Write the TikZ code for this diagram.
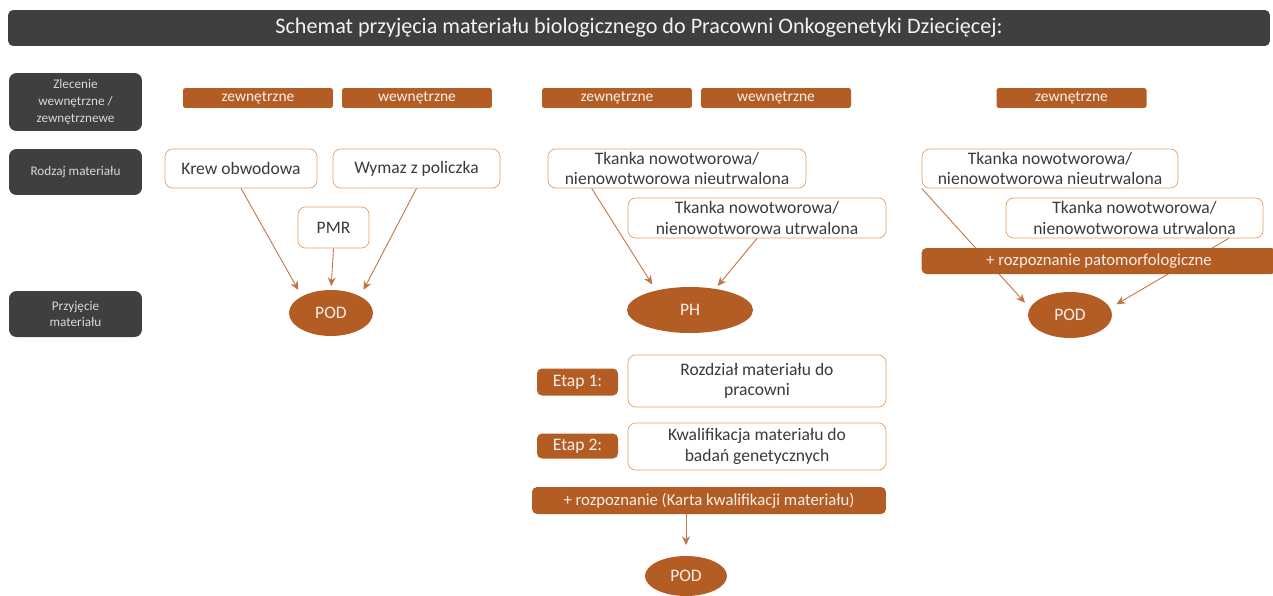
\documentclass[tikz,border=0pt]{standalone}
\usepackage{fontspec}
\setmainfont{Carlito}
\usetikzlibrary{shapes.geometric,arrows,arrows.meta,positioning,backgrounds}

\definecolor{rust}{HTML}{B35C24}
\definecolor{rustline}{HTML}{E6A064}
\definecolor{slate}{HTML}{3F3F3F}
\definecolor{boxtext}{HTML}{3A3A3A}

\begin{document}
\begin{tikzpicture}[
    x=0.02cm, y=-0.02cm,
    % Define styles for the header, row labels, tags and boxes
    header/.style={draw=none, fill=slate, rounded corners=1mm, text=white!95!black, font=\fontsize{12.6}{14}\selectfont, minimum width=25.24cm, minimum height=0.72cm},
    rowlabel/.style={fill=slate, rounded corners=1.5mm, text=white!85!black, font=\fontsize{7.5}{9.5}\selectfont, align=center, minimum width=2.66cm, inner sep=1pt},
    tag/.style={fill=rust, rounded corners=0.5mm, text=white!92!rust, font=\fontsize{8.8}{10}\selectfont, minimum width=3cm, minimum height=0.4cm, inner sep=0pt},
    material/.style={draw=rustline, fill=white, rounded corners=1.5mm, text=boxtext, font=\fontsize{10}{11.5}\selectfont, align=center, minimum height=0.78cm, inner sep=1pt},
    stage/.style={fill=rust, rounded corners=1mm, text=white!90!rust, font=\fontsize{10}{12}\selectfont, minimum width=1.62cm, minimum height=0.54cm, inner sep=0pt},
    diagnosis/.style={fill=rust, rounded corners=1mm, text=white!90!rust, font=\fontsize{9.5}{11}\selectfont, minimum height=0.54cm, inner sep=0pt},
    lab/.style={ellipse, fill=rust, text=white!90!rust, font=\fontsize{10}{12}\selectfont, inner sep=0pt, minimum width=1.68cm, minimum height=0.92cm},
    arrow/.style={-{Stealth[length=5pt,width=4.5pt]}, draw=rust!85!white, line width=0.5pt, shorten >=4pt}
]

\useasboundingbox (0,0) rectangle (1273,595);

% Title bar
\node[header] (title) at (639,28) {Schemat przyjęcia materiału biologicznego do Pracowni Onkogenetyki Dziecięcej:};

% Row labels on the left
\node[rowlabel, minimum height=1.16cm] (order) at (75.5,102) {Zlecenie\\wewnętrzne /\\zewnętrznewe};
\node[rowlabel, minimum height=0.92cm] (kind) at (75.5,172) {Rodzaj materiału};
\node[rowlabel, minimum height=0.92cm] (intake) at (75.5,314) {Przyjęcie\\materiału};

% Order tags
\node[tag] (ext1) at (258,98) {zewnętrzne};
\node[tag] (int1) at (417,98) {wewnętrzne};
\node[tag] (ext2) at (617,98) {zewnętrzne};
\node[tag] (int2) at (776,98) {wewnętrzne};
\node[tag] (ext3) at (1071.5,98) {zewnętrzne};

% First column - blood and swab
\node[material, minimum width=3.04cm] (blood) at (241,168.5) {Krew obwodowa};
\node[material, minimum width=3.34cm] (swab) at (416.5,168.5) {Wymaz z policzka};
\node[material, minimum width=1.42cm, minimum height=0.82cm] (pmr) at (333.5,227.5) {PMR};
\node[lab] (pod1) at (331,313) {POD};

\draw[arrow] (blood.south) -- (pod1.150);
\draw[arrow, shorten >=2pt] (pmr.south) -- (pod1.north);
\draw[arrow] (swab.south) -- (pod1.30);

% Second column - tissue to PH
\node[material, minimum width=5.16cm] (fresh2) at (677,168.5) {Tkanka nowotworowa/\\nienowotworowa nieutrwalona};
\node[material, minimum width=5.16cm, minimum height=0.8cm] (fixed2) at (757,218) {Tkanka nowotworowa/\\nienowotworowa utrwalona};
\node[lab, minimum width=2.52cm] (ph) at (690,310) {PH};

\draw[arrow] ([xshift=0.88cm]fresh2.south west) -- (ph.150);
\draw[arrow, shorten >=2pt] (fixed2.south) -- (ph.40);

% Stages after PH
\node[stage] (stage1) at (577.5,382) {Etap 1:};
\node[material, minimum width=5.16cm, minimum height=1.04cm] (split) at (757,381) {Rozdział materiału do\\pracowni};
\node[stage, minimum height=0.5cm] (stage2) at (577.5,446) {Etap 2:};
\node[material, minimum width=5.16cm, minimum height=0.94cm] (qualify) at (757,446.5) {Kwalifikacja materiału do\\badań genetycznych};
\node[diagnosis, minimum width=7.08cm] (card) at (709,500.5) {+ rozpoznanie (Karta kwalifikacji materiału)};
\node[lab, minimum width=1.64cm, minimum height=0.8cm] (pod2) at (686,576) {POD};

\draw[arrow, shorten >=6pt] (card.south -| pod2.north) -- (pod2.north);

% Third column - tissue with diagnosis to POD
\node[material, minimum width=5.12cm] (fresh3) at (1050,168.5) {Tkanka nowotworowa/\\nienowotworowa nieutrwalona};
\node[material, minimum width=5.14cm, minimum height=0.8cm] (fixed3) at (1134.5,218) {Tkanka nowotworowa/\\nienowotworowa utrwalona};
\node[lab] (pod3) at (1070,315) {POD};

% Arrows go under the diagnosis bar
\begin{scope}[on background layer]
    \draw[arrow] (fresh3.south west) -- (pod3.170);
    \draw[arrow] (fixed3.east) -- (pod3.10);
\end{scope}

\node[diagnosis, minimum width=7.1cm, minimum height=0.52cm] (patho) at (1099,261) {+ rozpoznanie patomorfologiczne};

\end{tikzpicture}
\end{document}
